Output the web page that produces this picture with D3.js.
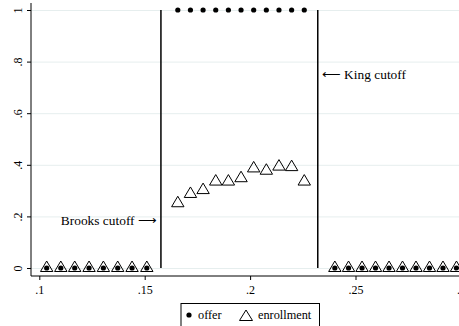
<!DOCTYPE html>
<html>
<head>
<meta charset="utf-8">
<script src="https://cdn.jsdelivr.net/npm/d3@7"></script>
<style>
  body { margin: 0; background: #fff; }
  svg { display: block; }
  svg text { font-family: "Liberation Serif", "Times New Roman", serif; fill: #000; }
  .grid line { stroke: #e6eeee; stroke-width: 1; }
  .grid path { display: none; }
  .axis path, .axis line { stroke: #000; }
  .axis text { font-size: 12px; }
</style>
</head>
<body>
<div id="chart"></div>
<script>
// Data
var leftX = [0.1035, 0.1102, 0.1168, 0.1236, 0.1304, 0.1372, 0.1440, 0.1510];
var midX = [0.1657, 0.1717, 0.1777, 0.1837, 0.1897, 0.1957, 0.2017, 0.2077, 0.2137, 0.2197, 0.2257];
var rightX = [0.2402, 0.2467, 0.2531, 0.2595, 0.2659, 0.2723, 0.2787, 0.2851, 0.2915, 0.2979];

var midEnrollment = [0.251, 0.287, 0.302, 0.335, 0.335, 0.348, 0.386, 0.377, 0.393, 0.391, 0.335];

var cutoffs = [
  { name: "Brooks", x: 0.1577 },
  { name: "King", x: 0.2321 },
];

var xTicks = [0.1, 0.15, 0.2, 0.25, 0.3];
var yTicks = [0, 0.2, 0.4, 0.6, 0.8, 1];

var fmt = (d) => (d === 0 ? "0" : d === 1 ? "1" : String(d).replace(/^0/, ""));

// build point table: offer is 0 outside the cutoffs, 1 between them
var points = [];
leftX.forEach((x) => points.push({ x: x, offer: 0, enrollment: 0 }));
midX.forEach((x, i) => points.push({ x: x, offer: 1, enrollment: midEnrollment[i] }));
rightX.forEach((x) => points.push({ x: x, offer: 0, enrollment: 0 }));

var width = 459;
var height = 326;

var xScale = d3.scaleLinear().domain([0.1, 0.3]).range([39.3, 460.9]);
var yScale = d3.scaleLinear().domain([0, 1]).range([268, 10]);

var axisX = 31;
var axisY = 276;

var svg = d3
  .select("#chart")
  .append("svg")
  .attr("width", width)
  .attr("height", height);

svg.append("rect").attr("width", width).attr("height", height).attr("fill", "#fff");

// grid
svg
  .append("g")
  .attr("class", "grid")
  .attr("transform", `translate(${axisX},0)`)
  .call(d3.axisLeft(yScale).tickValues(yTicks).tickSize(-(width - axisX)).tickFormat(""));

// y axis
var yAxis = svg.append("g").attr("class", "axis y").attr("transform", `translate(${axisX},0)`);
yAxis.call(d3.axisLeft(yScale).tickValues(yTicks).tickSize(4).tickSizeOuter(0).tickFormat(fmt));
yAxis.select(".domain").attr("d", `M0,3V${axisY}`);
yAxis
  .selectAll(".tick text")
  .attr("x", 0)
  .attr("y", 0)
  .attr("dy", 0)
  .attr("text-anchor", "middle")
  .attr("transform", "translate(-9,0) rotate(-90)");

// x axis
var xAxis = svg.append("g").attr("class", "axis x").attr("transform", `translate(0,${axisY})`);
xAxis.call(d3.axisBottom(xScale).tickValues(xTicks).tickSize(4).tickSizeOuter(0).tickFormat(fmt));
xAxis.select(".domain").attr("d", `M${axisX},0H${width + 20}`);
xAxis.selectAll(".tick text").attr("y", 18).attr("dy", 0);

// cutoff lines
svg
  .selectAll(".cutoff")
  .data(cutoffs)
  .enter()
  .append("line")
  .attr("class", "cutoff")
  .attr("x1", (d) => xScale(d.x))
  .attr("x2", (d) => xScale(d.x))
  .attr("y1", yScale(1))
  .attr("y2", yScale(0))
  .attr("stroke", "#000")
  .attr("stroke-width", 1.5);

// annotations
svg
  .append("text")
  .attr("x", xScale(cutoffs[0].x) - 4)
  .attr("y", yScale(0.2) + 9)
  .attr("text-anchor", "end")
  .attr("font-size", 13.4)
  .text("Brooks cutoff \u27F6");

svg
  .append("text")
  .attr("x", xScale(cutoffs[1].x) + 4)
  .attr("y", yScale(0.8) + 17)
  .attr("text-anchor", "start")
  .attr("font-size", 13.4)
  .text("\u27F5 King cutoff");

// enrollment triangles (centroid on the point)
var tri = (cx, cy, w, h) =>
  `M${cx},${cy - (2 * h) / 3}L${cx + w / 2},${cy + h / 3}L${cx - w / 2},${cy + h / 3}Z`;

svg
  .selectAll(".enroll")
  .data(points)
  .enter()
  .append("path")
  .attr("class", "enroll")
  .attr("d", (d) => tri(xScale(d.x), yScale(d.enrollment), 12.4, 10.5))
  .attr("fill", "none")
  .attr("stroke", "#000")
  .attr("stroke-width", 1);

// offer dots
svg
  .selectAll(".offer")
  .data(points)
  .enter()
  .append("circle")
  .attr("class", "offer")
  .attr("cx", (d) => xScale(d.x))
  .attr("cy", (d) => yScale(d.offer))
  .attr("r", 2.6)
  .attr("fill", "#000");

// legend
var legend = svg.append("g").attr("class", "legend");
legend
  .append("rect")
  .attr("x", 181)
  .attr("y", 303.5)
  .attr("width", 138.5)
  .attr("height", 40)
  .attr("fill", "#fff")
  .attr("stroke", "#000")
  .attr("stroke-width", 1);
legend.append("circle").attr("cx", 189).attr("cy", 315).attr("r", 2.6).attr("fill", "#000");
legend.append("text").attr("x", 198).attr("y", 319).attr("font-size", 12.3).text("offer");
legend
  .append("path")
  .attr("d", tri(246, 317, 13, 10.5))
  .attr("fill", "none")
  .attr("stroke", "#000")
  .attr("stroke-width", 1);
legend.append("text").attr("x", 258).attr("y", 319).attr("font-size", 12.3).text("enrollment");
</script>
</body>
</html>
